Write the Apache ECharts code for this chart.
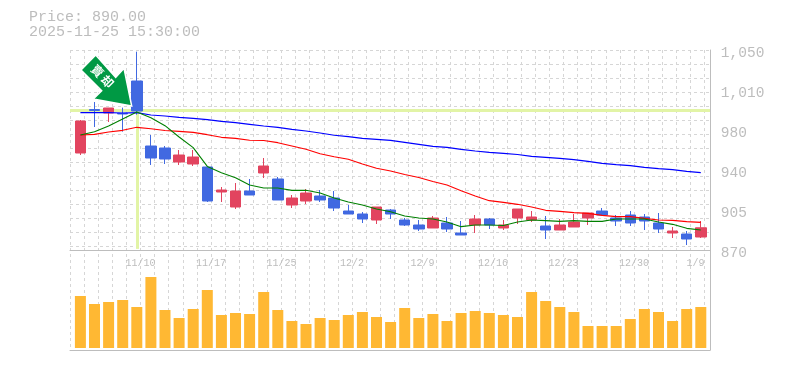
<!DOCTYPE html>
<html>
<head>
<meta charset="utf-8">
<style>html,body{margin:0;padding:0;background:#fff}#c{width:785px;height:370px}</style>
<script src="https://cdn.jsdelivr.net/npm/echarts@6/dist/echarts.min.js"></script>
</head>
<body>
<div id="c"></div>
<script>
const opens = [957.3,996.4,993.3,993,1022.1,963.6,961.8,949.2,947.4,944.7,922.2,908.7,923.1,939.3,933.9,910.5,914.1,918.6,916.8,905.1,902.4,897,906,897,892.5,889.8,894.3,885.3,892.5,897.9,889.8,898.8,897,891.6,888,890.7,898.8,905.1,898.8,901.5,899.7,894.3,885.3,884.4,881.7];
const closes = [986.1,995.6,997.8,992.4,995.1,952.8,951.9,955.5,953.7,914.1,924,923.1,919.5,945.6,915,916.8,921.3,915,907.8,902.4,897.9,908.7,902.4,892.5,888.9,898.8,888.9,883.5,897.9,892.5,892.5,906.9,899.7,888,892.5,895.2,903.3,901.5,896.1,894.3,896.1,888.9,887.1,879.9,890];
const lows = [955.5,980.7,985.2,976.5,991.8,946.5,947.4,946.5,945.6,913.2,913.2,906.9,919.5,934.8,915,907.8,911.4,913.2,905.1,902.4,894.3,893.4,897.9,891.6,887.1,889.8,886.2,883.5,885.3,888.9,888,893.4,895.2,879.9,888,890.7,892.5,901.5,891.6,891.6,888,885.3,880.8,874.5,880.8];
const highs = [987,1003.2,997.8,998.1,1048.5,973.5,963.6,960,960,944.7,926.7,930.3,933.9,952.8,935.7,919.5,924.9,924,923.1,910.5,904.2,908.7,906.9,898.8,897,900.6,899.7,896.1,901.5,898.8,897,906.9,905.1,900.6,897.9,902.4,903.3,907.8,901.5,905.1,902.4,903.3,890.7,887.1,896.1];
const ma5 = [973.5,976.5,981.6,987.9,994.2,989.1,981.9,971.7,962.1,945.2,939.6,935.1,928.5,925.8,925.8,923.7,923.7,921.3,916.8,913.2,910.5,906.9,904.5,900.6,898.8,897.9,895.2,891,892.5,892.5,892,895.2,897,896.4,895.8,896.4,895.8,895.8,897.9,897.9,897.9,895.2,893.1,889.5,888];
const ma20 = [973.5,974.1,976.2,977.7,980.4,979.1,977.6,976.8,975.9,973.8,971.4,970.5,968.8,968.6,966.6,963.6,960.6,956.7,954,951.6,947.4,943.5,941.1,937.9,935.3,931.7,928.5,923.4,918.6,914.4,912.9,911.1,908.7,905.7,904.8,903.6,903,901.2,900,900,898.5,897,896.7,895.5,894.9];
const ma60 = [993.6,993.6,993.6,993.3,993.6,991.5,990.6,989.4,988.5,987.3,985.8,984.6,983.1,981.6,980.4,978.6,977.1,975.3,973.3,972,970.5,969.6,968.7,966.9,965.1,963.3,962.4,960.6,959.1,957.9,957,955.9,954.3,953.4,952.5,951.3,949.8,948,946.8,945.9,944.4,943.2,942.3,940.8,939.6];
const volumes = [52,44,46,48,41,71,38,30,39,58,33,35,34,56,38,27,24,30,28,33,36,31,26,40,30,34,27,35,37,35,33,31,56,47,41,36,22,22,22,29,39,36,27,39,41];
const dateTickLabels = ['11/10','11/17','11/25','12/2','12/9','12/16','12/23','12/30','1/9'];
const dateTickSlots = [5,10,15,20,25,30,35,40,45];
const priceTickValues = [870,906,942,978,1014,1050];
const priceTickLabels = ['870','905','940','980','1,010','1,050'];
const crossPrice = 995.5;
const crossIndex = 4;
const titleLines = ['Price: 890.00','2025-11-25 15:30:00'];
const arrowLabel = ['賣','却'];

const categories = opens.map((_, i) => String(i));
const candles = opens.map((o, i) => [o, closes[i], lows[i], highs[i]]);
const MONO = '"Liberation Mono", monospace';
const GREY = '#bdbdbd';
const DASH = {color: '#d6d6d6', width: 1, type: [3, 3]};
const CROSS = {color: '#e2f4a6', width: 3, type: 'solid'};
const slotsMax = 640 / 14.1;

const chart = echarts.init(document.getElementById('c'), null, {renderer: 'canvas'});
chart.setOption({
  animation: false,
  backgroundColor: '#fff',
  title: {
    text: titleLines.join('\n'), left: 29, top: 10, padding: 0,
    textStyle: {fontFamily: MONO, fontSize: 15, fontWeight: 'normal', color: GREY, lineHeight: 15}
  },
  grid: [
    {left: 70, top: 50, width: 640, height: 300},
    {left: 70, top: 50, width: 640, height: 200},
    {left: 73.35, top: 50, width: 634.5, height: 200},
    {left: 73.35, top: 248, width: 634.5, height: 100},
    {left: 73.35, top: 53, width: 634.5, height: 200}
  ],
  xAxis: [
    {gridIndex: 0, type: 'value', min: 0, max: slotsMax, interval: 1,
     axisLine: {show: true, onZero: false, lineStyle: {color: GREY, width: 1}}, axisTick: {show: false}, axisLabel: {show: false},
     splitLine: {show: true, lineStyle: DASH}},
    {gridIndex: 1, type: 'value', min: 0, max: slotsMax, interval: 1,
     axisLine: {show: true, onZero: false, lineStyle: {color: GREY, width: 1}}, axisTick: {show: false}, splitLine: {show: false},
     axisLabel: {show: true, customValues: dateTickSlots, margin: 8, alignMaxLabel: 'right',
       fontFamily: MONO, fontSize: 10, color: GREY,
       formatter: v => dateTickLabels[dateTickSlots.indexOf(v)] || ''}},
    {gridIndex: 2, type: 'category', data: categories, show: false},
    {gridIndex: 3, type: 'category', data: categories, show: false},
    {gridIndex: 4, type: 'category', data: categories, show: false}
  ],
  yAxis: [
    {gridIndex: 0, type: 'value', min: 0, max: 1, position: 'right',
     axisLine: {show: true, onZero: false, lineStyle: {color: GREY, width: 1}}, axisTick: {show: false}, axisLabel: {show: false}, splitLine: {show: false}},
    {gridIndex: 1, type: 'value', min: 0, max: 200, interval: 14, inverse: true, position: 'left',
     axisLine: {show: false}, axisTick: {show: false}, axisLabel: {show: false},
     splitLine: {show: true, lineStyle: DASH}},
    {gridIndex: 1, type: 'value', min: 870, max: 1050, position: 'right', show: false},
    {gridIndex: 2, type: 'value', min: 870, max: 1050, position: 'right', show: false},
    {gridIndex: 3, type: 'value', min: 0, max: 100, show: false},
    {gridIndex: 4, type: 'value', min: 870, max: 1050, position: 'right',
     axisLine: {show: false}, axisTick: {show: false}, splitLine: {show: false},
     axisLabel: {show: true, customValues: priceTickValues, margin: 13,
       fontFamily: MONO, fontSize: 14.5, color: GREY,
       formatter: v => priceTickLabels[priceTickValues.indexOf(v)] || ''}}
  ],
  series: [
    {type: 'line', xAxisIndex: 1, yAxisIndex: 2, data: [], z: 1, silent: true, symbol: 'none',
     markLine: {silent: true, symbol: 'none', label: {show: false}, lineStyle: CROSS, z: 1, animation: false,
       data: [{yAxis: crossPrice}]}},
    {type: 'line', xAxisIndex: 2, yAxisIndex: 3, data: [], z: 1, silent: true, symbol: 'none',
     markLine: {silent: true, symbol: 'none', label: {show: false}, lineStyle: CROSS, z: 1, animation: false,
       data: [[{xAxis: crossIndex, yAxis: crossPrice}, {xAxis: crossIndex, yAxis: 871}]]}},
    {type: 'line', xAxisIndex: 4, yAxisIndex: 5, data: [], silent: true, symbol: 'none'},
    {type: 'candlestick', name: 'price', xAxisIndex: 2, yAxisIndex: 3, data: candles, barWidth: 11, z: 3,
     itemStyle: {color: '#e2445f', color0: '#4169e1', borderColor: '#e2445f', borderColor0: '#4169e1', borderWidth: 1}},
    {type: 'line', name: 'MA60', xAxisIndex: 2, yAxisIndex: 3, data: ma60, symbol: 'none', z: 4, lineStyle: {color: '#0000ff', width: 1.1}},
    {type: 'line', name: 'MA20', xAxisIndex: 2, yAxisIndex: 3, data: ma20, symbol: 'none', z: 4, lineStyle: {color: '#ff0000', width: 1.1}},
    {type: 'line', name: 'MA5', xAxisIndex: 2, yAxisIndex: 3, data: ma5, symbol: 'none', z: 4, lineStyle: {color: '#008000', width: 1.1}},
    {type: 'bar', name: 'volume', xAxisIndex: 3, yAxisIndex: 4, data: volumes, barWidth: 11, z: 3, itemStyle: {color: '#ffb833'}}
  ],
  graphic: [
    {type: 'polygon', z: 20,
     shape: {points: [[95.7,55],[81,70],[101.7,90.7],[93.3,99],[131.7,106],[124,68.3],[115.7,77.3]]},
     style: {fill: '#009944', stroke: '#fff', lineWidth: 1.5}},
    {type: 'text', z: 21, x: 97.5, y: 71, rotation: -Math.PI / 4,
     style: {text: arrowLabel[0], fill: '#fff', font: 'bold 12px "Noto Sans CJK JP"', align: 'center', verticalAlign: 'middle'}},
    {type: 'text', z: 21, x: 107.5, y: 81.5, rotation: -Math.PI / 4,
     style: {text: arrowLabel[1], fill: '#fff', font: 'bold 12px "Noto Sans CJK JP"', align: 'center', verticalAlign: 'middle'}}
  ]
});
</script>
</body>
</html>
